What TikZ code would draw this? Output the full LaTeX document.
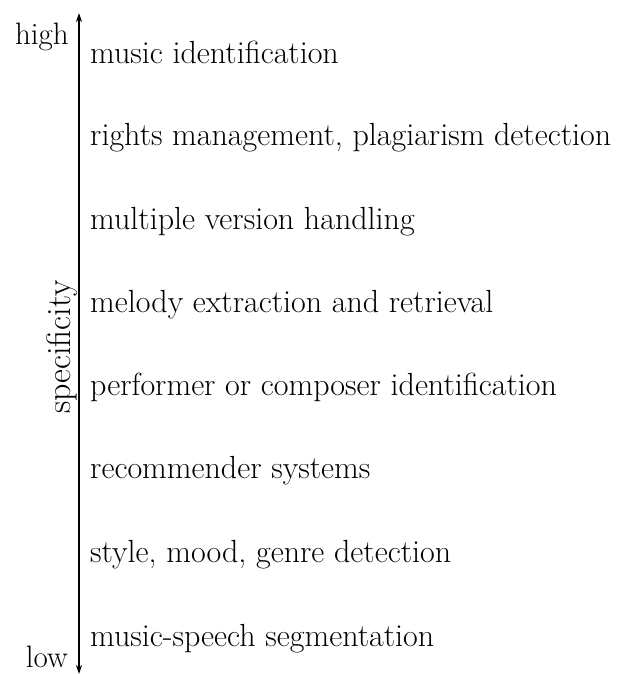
\documentclass[tikz,border=0pt]{standalone}
\usetikzlibrary{arrows.meta}
\begin{document}
\begin{tikzpicture}[x=1pt,y=1pt,
  lbl/.style={inner sep=0pt, anchor=base west, font=\fontsize{32}{38}\selectfont},
  side/.style={inner sep=0pt, font=\fontsize{31}{37}\selectfont},
  axis/.style={line width=1.6pt, {Stealth[length=9pt,width=6pt]}-{Stealth[length=9pt,width=6pt]}}]
\useasboundingbox (0,0) rectangle (617,-674);
\coordinate (top) at (79,-13);
\coordinate (bot) at (79,-674);
\draw[axis] (bot) -- (top);
\node[side, anchor=base east] (high) at (69,-45) {high};
\node[side, anchor=base east] (low) at (68,-667) {low};
\node[side, anchor=base, rotate=90] (spec) at (70,-347) {\fontsize{34}{40}\selectfont specificity};
\node[lbl] (t1) at (90,-64) {music identification};
\node[lbl] (t2) at (90,-146) {rights management, plagiarism detection};
\node[lbl] (t3) at (90,-229) {multiple version handling};
\node[lbl] (t4) at (90,-312) {melody extraction and retrieval};
\node[lbl] (t5) at (90,-395) {performer or composer identification};
\node[lbl] (t6) at (90,-478) {recommender systems};
\node[lbl] (t7) at (90,-562) {style, mood, genre detection};
\node[lbl] (t8) at (90,-646) {music-speech segmentation};
\end{tikzpicture}
\end{document}
